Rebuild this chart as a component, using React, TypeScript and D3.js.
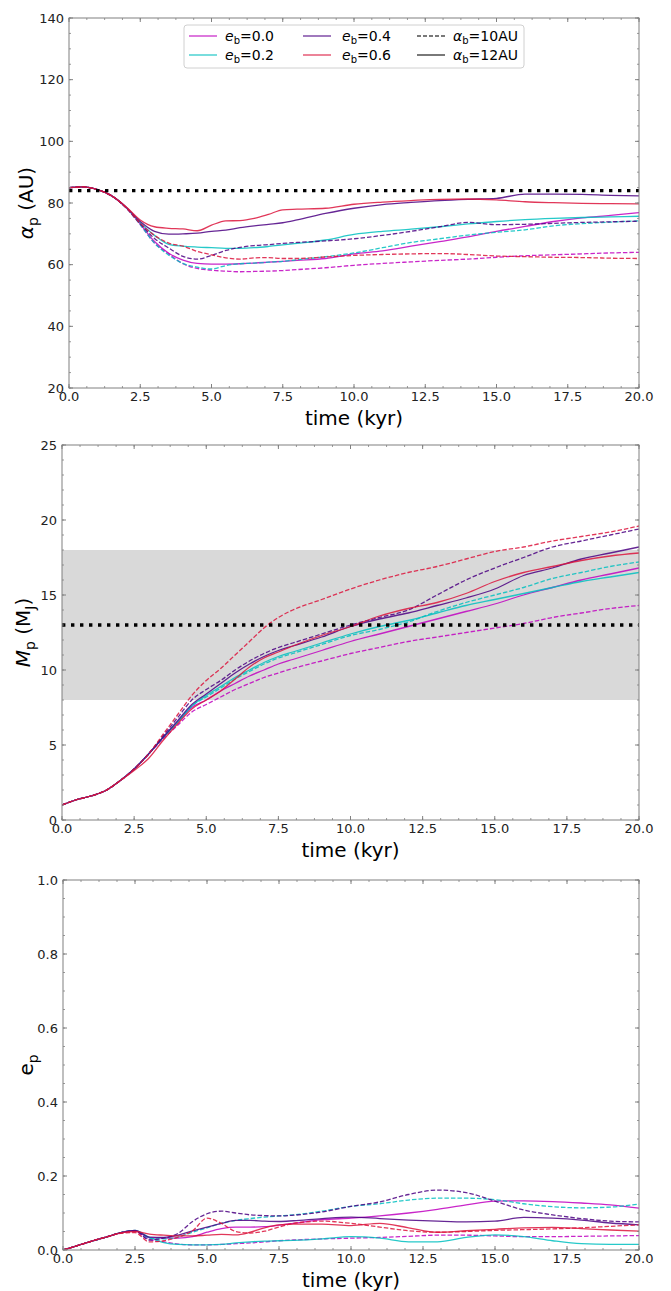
import React from "react";
import * as d3 from "d3";

// time grid (kyr)
const T = [0, 0.5, 1, 1.5, 2, 2.5, 3, 3.5, 4, 4.5, 5, 5.5, 6, 6.5, 7, 7.5, 8, 9, 10, 11, 12, 13, 14, 15, 16, 17, 18, 19, 20];

// ---- panel 1 : a_p (AU)
const aP_e00_12 = [85, 85.2, 84.3, 82.3, 78.5, 73.2, 67.5, 63.7, 61.5, 60.4, 60.2, 60.2, 60.3, 60.5, 60.8, 61.1, 61.4, 62.0, 63.5, 64.5, 66.0, 67.5, 69.0, 70.8, 72.4, 74.0, 75.2, 76.0, 76.9];
const aP_e00_10 = [85, 85.2, 84.3, 82.3, 78.5, 73.0, 67.0, 63.5, 60.3, 58.8, 58.2, 57.9, 57.7, 57.8, 57.9, 58.1, 58.4, 59.0, 59.8, 60.4, 60.9, 61.4, 61.8, 62.4, 62.9, 63.2, 63.5, 63.8, 64.0];
const aP_e02_12 = [85, 85.2, 84.3, 82.3, 78.6, 73.6, 69.5, 66.6, 66.0, 65.7, 65.5, 65.3, 65.3, 65.5, 65.9, 66.4, 66.9, 68.0, 69.8, 70.8, 71.5, 72.3, 73.2, 74.0, 74.6, 75.0, 75.3, 75.5, 75.7];
const aP_e02_10 = [85, 85.2, 84.3, 82.3, 78.5, 73.0, 67.0, 63.1, 60.4, 59.2, 58.6, 59.7, 60.3, 60.5, 60.8, 61.1, 61.6, 62.6, 63.8, 65.5, 67.2, 68.4, 69.6, 70.5, 71.3, 72.6, 73.3, 73.8, 74.2];
const aP_e04_12 = [85, 85.2, 84.3, 82.3, 78.7, 74.0, 70.8, 69.9, 70.0, 70.2, 70.8, 71.2, 72.0, 72.6, 73.1, 73.6, 74.5, 76.6, 78.3, 79.5, 80.2, 80.8, 81.2, 81.5, 82.9, 82.9, 82.8, 82.5, 82.3];
const aP_e04_10 = [85, 85.2, 84.3, 82.3, 78.5, 73.3, 68.5, 65.4, 62.7, 61.8, 63.0, 64.6, 65.6, 66.2, 66.5, 66.9, 67.2, 67.7, 68.4, 69.5, 70.8, 72.3, 73.7, 73.0, 73.1, 73.4, 73.7, 73.9, 74.1];
const aP_e06_12 = [85, 85.2, 84.3, 82.3, 78.8, 74.5, 72.3, 71.8, 71.6, 71.0, 72.8, 74.2, 74.3, 75.0, 76.3, 77.8, 78.0, 78.3, 79.6, 80.3, 80.8, 81.2, 81.3, 81.0, 80.4, 80.1, 79.9, 79.8, 79.7];
const aP_e06_10 = [85, 85.2, 84.3, 82.3, 78.5, 73.4, 69.5, 67.0, 66.0, 64.3, 63.2, 62.2, 61.8, 62.2, 62.3, 62.0, 62.0, 62.5, 63.0, 63.3, 63.5, 63.6, 63.3, 62.8, 62.6, 62.4, 62.3, 62.1, 62.0];

// ---- panel 2 : M_p (M_J)
const mP_e00_12 = [1.0, 1.35, 1.6, 1.95, 2.6, 3.4, 4.4, 5.5, 6.5, 7.5, 8.0, 8.6, 9.1, 9.6, 10.0, 10.4, 10.7, 11.3, 11.9, 12.4, 12.9, 13.4, 13.9, 14.4, 15.0, 15.5, 16.0, 16.4, 16.8];
const mP_e00_10 = [1.0, 1.35, 1.6, 1.95, 2.6, 3.4, 4.4, 5.4, 6.3, 7.2, 7.7, 8.2, 8.7, 9.1, 9.5, 9.8, 10.1, 10.6, 11.1, 11.5, 11.9, 12.2, 12.5, 12.8, 13.1, 13.5, 13.8, 14.1, 14.3];
const mP_e02_12 = [1.0, 1.35, 1.6, 1.95, 2.6, 3.4, 4.4, 5.5, 6.5, 7.6, 8.3, 8.9, 9.5, 10.0, 10.5, 10.9, 11.2, 11.8, 12.4, 12.9, 13.3, 13.8, 14.3, 14.7, 15.1, 15.5, 15.9, 16.2, 16.5];
const mP_e02_10 = [1.0, 1.35, 1.6, 1.95, 2.6, 3.4, 4.4, 5.5, 6.5, 7.6, 8.2, 8.8, 9.4, 9.9, 10.4, 10.8, 11.1, 11.7, 12.3, 12.7, 13.2, 13.9, 14.5, 15.0, 15.5, 16.1, 16.5, 16.9, 17.2];
const mP_e04_12 = [1.0, 1.35, 1.6, 1.95, 2.6, 3.4, 4.4, 5.5, 6.6, 7.7, 8.4, 9.1, 9.8, 10.4, 10.9, 11.3, 11.6, 12.2, 12.9, 13.4, 13.8, 14.3, 14.8, 15.4, 16.3, 16.8, 17.4, 17.8, 18.2];
const mP_e04_10 = [1.0, 1.35, 1.6, 1.95, 2.6, 3.4, 4.4, 5.6, 6.8, 8.0, 8.7, 9.3, 10.0, 10.6, 11.1, 11.5, 11.8, 12.4, 13.0, 13.5, 14.0, 15.0, 16.0, 16.8, 17.5, 18.2, 18.6, 19.0, 19.4];
const mP_e06_12 = [1.0, 1.35, 1.6, 1.95, 2.6, 3.3, 4.1, 5.3, 6.4, 7.4, 8.0, 8.6, 9.4, 10.2, 10.8, 11.2, 11.6, 12.3, 12.9, 13.6, 14.1, 14.5, 15.1, 15.9, 16.5, 16.9, 17.3, 17.6, 17.8];
const mP_e06_10 = [1.0, 1.35, 1.6, 1.95, 2.6, 3.4, 4.4, 5.7, 7.0, 8.3, 9.3, 10.1, 11.0, 11.9, 12.8, 13.5, 14.0, 14.7, 15.4, 16.0, 16.5, 16.9, 17.4, 17.9, 18.2, 18.6, 18.9, 19.2, 19.6];

// ---- panel 3 : e_p
const eP_e00_12 = [0, 0.012, 0.024, 0.035, 0.046, 0.052, 0.033, 0.032, 0.032, 0.036, 0.048, 0.058, 0.062, 0.062, 0.063, 0.067, 0.072, 0.082, 0.086, 0.092, 0.100, 0.110, 0.122, 0.132, 0.133, 0.131, 0.127, 0.122, 0.113];
const eP_e00_10 = [0, 0.012, 0.024, 0.035, 0.046, 0.050, 0.028, 0.022, 0.016, 0.014, 0.014, 0.015, 0.017, 0.019, 0.022, 0.025, 0.027, 0.030, 0.032, 0.034, 0.037, 0.040, 0.040, 0.038, 0.036, 0.036, 0.037, 0.038, 0.039];
const eP_e02_12 = [0, 0.012, 0.024, 0.035, 0.047, 0.053, 0.034, 0.020, 0.015, 0.014, 0.014, 0.015, 0.019, 0.022, 0.024, 0.025, 0.026, 0.030, 0.036, 0.032, 0.022, 0.022, 0.034, 0.041, 0.036, 0.025, 0.017, 0.015, 0.015];
const eP_e02_10 = [0, 0.012, 0.024, 0.035, 0.047, 0.052, 0.032, 0.030, 0.035, 0.048, 0.060, 0.072, 0.080, 0.085, 0.089, 0.092, 0.095, 0.105, 0.118, 0.125, 0.135, 0.140, 0.140, 0.136, 0.125, 0.117, 0.114, 0.116, 0.124];
const eP_e04_12 = [0, 0.012, 0.024, 0.035, 0.047, 0.053, 0.035, 0.034, 0.040, 0.052, 0.062, 0.072, 0.080, 0.080, 0.078, 0.077, 0.079, 0.085, 0.089, 0.085, 0.081, 0.078, 0.076, 0.078, 0.088, 0.086, 0.081, 0.073, 0.068];
const eP_e04_10 = [0, 0.012, 0.024, 0.035, 0.047, 0.052, 0.027, 0.032, 0.045, 0.077, 0.098, 0.105, 0.100, 0.095, 0.093, 0.092, 0.094, 0.103, 0.118, 0.130, 0.150, 0.162, 0.155, 0.132, 0.108, 0.095, 0.085, 0.078, 0.076];
const eP_e06_12 = [0, 0.012, 0.024, 0.035, 0.046, 0.050, 0.043, 0.040, 0.038, 0.038, 0.040, 0.042, 0.041, 0.048, 0.060, 0.068, 0.070, 0.070, 0.066, 0.072, 0.060, 0.048, 0.052, 0.056, 0.060, 0.061, 0.058, 0.054, 0.051];
const eP_e06_10 = [0, 0.012, 0.024, 0.035, 0.045, 0.047, 0.022, 0.025, 0.035, 0.052, 0.086, 0.072, 0.050, 0.046, 0.051, 0.062, 0.072, 0.078, 0.072, 0.062, 0.052, 0.048, 0.050, 0.053, 0.055, 0.057, 0.060, 0.064, 0.068];

const ECC_LABELS = ["0.0", "0.2", "0.4", "0.6"];
const ECC_COLORS = ["#bf00bf", "#00bfbf", "#4b0082", "#dc143c"];
const SEP_LABELS = ["10AU", "12AU"];
const X_TICKS = [0, 2.5, 5, 7.5, 10, 12.5, 15, 17.5, 20];

const FONT = "DejaVu Sans, sans-serif";

type Series = { ecc: number; dashed: boolean; values: number[] };

const mk = (arr: number[][]): Series[] => [
  { ecc: 0, dashed: true, values: arr[0] },
  { ecc: 0, dashed: false, values: arr[1] },
  { ecc: 1, dashed: true, values: arr[2] },
  { ecc: 1, dashed: false, values: arr[3] },
  { ecc: 2, dashed: true, values: arr[4] },
  { ecc: 2, dashed: false, values: arr[5] },
  { ecc: 3, dashed: true, values: arr[6] },
  { ecc: 3, dashed: false, values: arr[7] },
];

const panels = [
  {
    id: "p1", left: 69, right: 639, top: 18, bottom: 388,
    yDomain: [20, 140], yMajor: 20, yMinor: 5, fmt: (d: number) => String(d),
    series: mk([aP_e00_10, aP_e00_12, aP_e02_10, aP_e02_12, aP_e04_10, aP_e04_12, aP_e06_10, aP_e06_12]),
    dotted: 84, band: null as null | number[], ylabel: "a", ylx: 26,
  },
  {
    id: "p2", left: 62, right: 639, top: 445, bottom: 820,
    yDomain: [0, 25], yMajor: 5, yMinor: 1, fmt: (d: number) => String(d),
    series: mk([mP_e00_10, mP_e00_12, mP_e02_10, mP_e02_12, mP_e04_10, mP_e04_12, mP_e06_10, mP_e06_12]),
    dotted: 13, band: [8, 18], ylabel: "m", ylx: 23,
  },
  {
    id: "p3", left: 63, right: 639, top: 880, bottom: 1250,
    yDomain: [0, 1], yMajor: 0.2, yMinor: 0.05, fmt: (d: number) => d.toFixed(1),
    series: mk([eP_e00_10, eP_e00_12, eP_e02_10, eP_e02_12, eP_e04_10, eP_e04_12, eP_e06_10, eP_e06_12]),
    dotted: null as null | number, band: null, ylabel: "e", ylx: 26,
  },
];

function YLabel({ kind }: { kind: string }) {
  if (kind === "a")
    return (
      <>
        <tspan fontStyle="italic">α</tspan>
        <tspan fontSize="14" dy="5">p</tspan>
        <tspan dy="-5"> (AU)</tspan>
      </>
    );
  if (kind === "m")
    return (
      <>
        <tspan fontStyle="italic">M</tspan>
        <tspan fontSize="14" dy="5">p</tspan>
        <tspan dy="-5"> (M</tspan>
        <tspan fontSize="14" dy="5">J</tspan>
        <tspan dy="-5">)</tspan>
      </>
    );
  return (
    <>
      <tspan>e</tspan>
      <tspan fontSize="14" dy="5">p</tspan>
    </>
  );
}

function Panel({ p }: { p: (typeof panels)[number] }) {
  const x = d3.scaleLinear().domain([0, 20]).range([p.left, p.right]);
  const y = d3.scaleLinear().domain(p.yDomain).range([p.bottom, p.top]);
  const line = d3
    .line<number>()
    .x((_, i) => x(T[i]))
    .y((d) => y(d))
    .curve(d3.curveMonotoneX);
  const eps = 1e-9;
  const yMaj = d3.range(p.yDomain[0], p.yDomain[1] + eps, p.yMajor);
  const yMin = d3.range(p.yDomain[0], p.yDomain[1] + eps, p.yMinor);
  const xMin = d3.range(0, 20 + eps, 0.625);
  const spine = "#808080";
  const cy = (p.top + p.bottom) / 2;
  return (
    <g>
      <defs>
        <clipPath id={"clip-" + p.id}>
          <rect x={p.left} y={p.top} width={p.right - p.left} height={p.bottom - p.top} />
        </clipPath>
      </defs>
      {p.band && (
        <rect
          x={p.left}
          width={p.right - p.left}
          y={y(p.band[1])}
          height={y(p.band[0]) - y(p.band[1])}
          fill="#d9d9d9"
        />
      )}
      <g clipPath={`url(#clip-${p.id})`}>
        {p.series.map((s, i) => (
          <path
            key={i}
            d={line(s.values) || ""}
            fill="none"
            stroke={ECC_COLORS[s.ecc]}
            strokeOpacity={0.85}
            strokeWidth={1.3}
            strokeDasharray={s.dashed ? "4.5,2" : undefined}
          />
        ))}
        {p.dotted != null && (
          <line
            x1={p.left}
            x2={p.right}
            y1={y(p.dotted)}
            y2={y(p.dotted)}
            stroke="#000"
            strokeWidth={3.4}
            strokeDasharray="3.4,5.6"
          />
        )}
      </g>
      {yMin.map((v, i) => (
        <g key={"ym" + i} stroke={spine} strokeWidth={0.8}>
          <line x1={p.left} x2={p.left + 2} y1={y(v)} y2={y(v)} />
          <line x1={p.right} x2={p.right - 2} y1={y(v)} y2={y(v)} />
        </g>
      ))}
      {yMaj.map((v, i) => (
        <g key={"yM" + i}>
          <line x1={p.left} x2={p.left + 4} y1={y(v)} y2={y(v)} stroke={spine} />
          <line x1={p.right} x2={p.right - 4} y1={y(v)} y2={y(v)} stroke={spine} />
          <text
            x={p.left - 5}
            y={y(v)}
            dy="0.36em"
            textAnchor="end"
            fontSize={13}
            fontFamily={FONT}
            fill="#222"
          >
            {p.fmt(v)}
          </text>
        </g>
      ))}
      {xMin.map((v, i) => (
        <g key={"xm" + i} stroke={spine} strokeWidth={0.8}>
          <line x1={x(v)} x2={x(v)} y1={p.bottom} y2={p.bottom - 2} />
          <line x1={x(v)} x2={x(v)} y1={p.top} y2={p.top + 2} />
        </g>
      ))}
      {X_TICKS.map((v, i) => (
        <g key={"xM" + i}>
          <line x1={x(v)} x2={x(v)} y1={p.bottom} y2={p.bottom - 4} stroke={spine} />
          <line x1={x(v)} x2={x(v)} y1={p.top} y2={p.top + 4} stroke={spine} />
          <text
            x={x(v)}
            y={p.bottom + 13}
            textAnchor="middle"
            fontSize={13}
            fontFamily={FONT}
            fill="#222"
          >
            {v.toFixed(1)}
          </text>
        </g>
      ))}
      <rect
        x={p.left}
        y={p.top}
        width={p.right - p.left}
        height={p.bottom - p.top}
        fill="none"
        stroke={spine}
        strokeWidth={1}
      />
      <text
        x={(p.left + p.right) / 2}
        y={p.bottom + 37}
        textAnchor="middle"
        fontSize={20}
        fontFamily={FONT}
        fill="#000"
      >
        time (kyr)
      </text>
      <text
        transform={`translate(${p.ylx},${cy}) rotate(-90)`}
        textAnchor="middle"
        dy="0.35em"
        fontSize={20}
        fontFamily={FONT}
        fill="#000"
      >
        <YLabel kind={p.ylabel} />
      </text>
    </g>
  );
}

function Legend() {
  const rows = [36, 55];
  const cols = [
    { lx: 189, tx: 225 },
    { lx: 303, tx: 342 },
    { lx: 417, tx: 453 },
  ];
  const items: { col: number; row: number; color: string; dashed: boolean; kind: "e" | "a"; label: string }[] = [];
  ECC_LABELS.forEach((lab, i) =>
    items.push({ col: Math.floor(i / 2), row: i % 2, color: ECC_COLORS[i], dashed: false, kind: "e", label: lab })
  );
  SEP_LABELS.forEach((lab, i) =>
    items.push({ col: 2, row: i, color: "#000", dashed: i === 0, kind: "a", label: lab })
  );
  return (
    <g>
      <rect x={184} y={25} width={340} height={43} rx={3} fill="#fff" fillOpacity={0.85} stroke="#d0d0d0" />
      {items.map((it, i) => (
        <g key={i}>
          <line
            x1={cols[it.col].lx}
            x2={cols[it.col].lx + 28}
            y1={rows[it.row]}
            y2={rows[it.row]}
            stroke={it.color}
            strokeOpacity={0.7}
            strokeWidth={1.5}
            strokeDasharray={it.dashed ? "4,2" : undefined}
          />
          <text x={cols[it.col].tx} y={rows[it.row]} dy="0.36em" fontSize={14} fontFamily={FONT} fill="#000">
            <tspan fontStyle="italic">{it.kind === "e" ? "e" : "α"}</tspan>
            <tspan fontSize={10} dy="3">b</tspan>
            <tspan dy="-3">={it.label}</tspan>
          </text>
        </g>
      ))}
    </g>
  );
}

export default function App() {
  return (
    <svg
      width={671}
      height={1291}
      style={{ position: "absolute", left: 0, top: 0, background: "#fff" }}
    >
      <rect width={671} height={1291} fill="#fff" />
      {panels.map((p) => (
        <Panel key={p.id} p={p} />
      ))}
      <Legend />
    </svg>
  );
}
